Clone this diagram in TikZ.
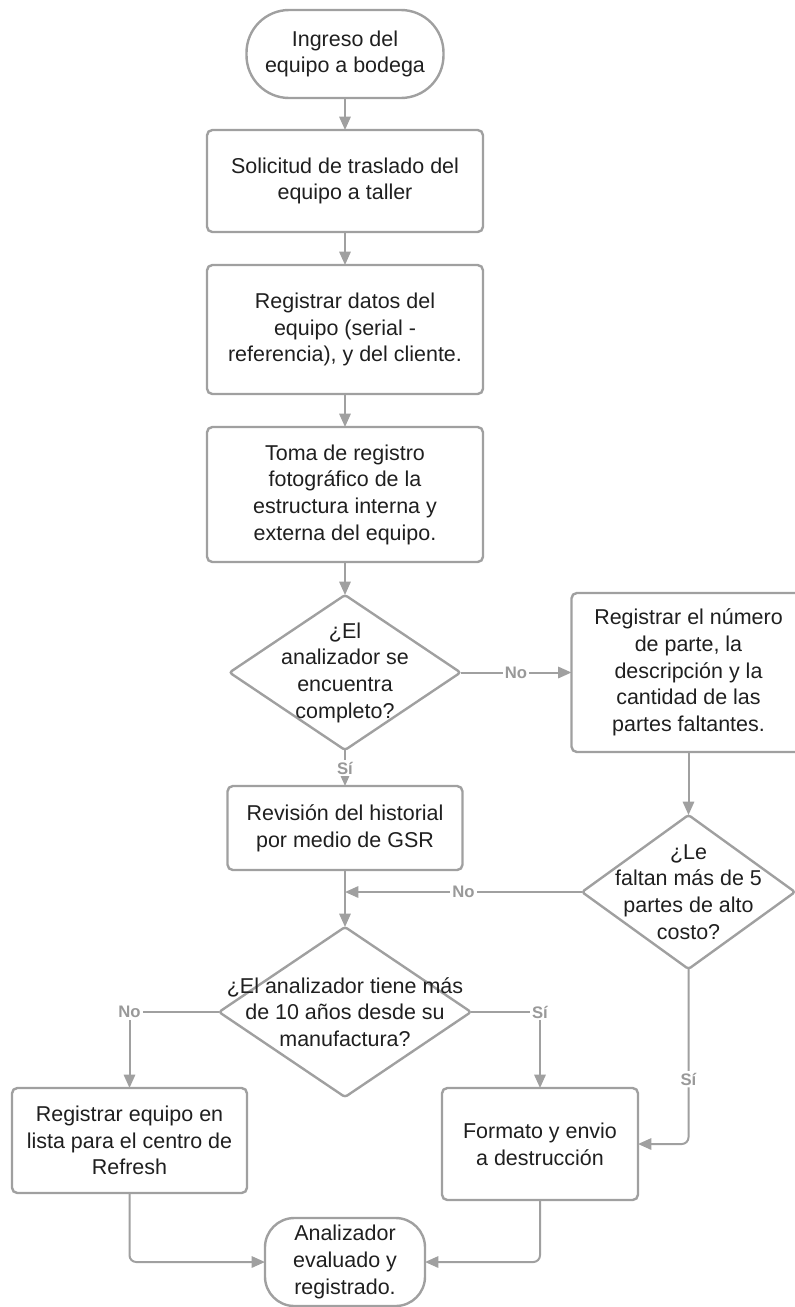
\documentclass[tikz,border=0pt]{standalone}
\usepackage{fontspec}
\setmainfont{Liberation Sans}
\usetikzlibrary{positioning,arrows.meta,shapes.geometric}

\definecolor{flowgray}{HTML}{A0A0A0}
\definecolor{labelgray}{HTML}{999999}

\begin{document}
\begin{tikzpicture}[
x=0.75pt,y=-0.75pt,
node distance=24.75pt,
every node/.style={
font=\fontsize{16.1}{20}\selectfont,
text=black!88,
align=center,
outer sep=0pt
},
process/.style={
draw=flowgray,
line width=1.8pt,
rounded corners=4pt,
minimum width=207pt
},
terminal/.style={
draw=flowgray,
line width=1.8pt,
rounded corners=32pt,
minimum height=66pt
},
decision/.style={
diamond,
draw=flowgray,
line width=1.8pt,
rounded corners=2pt,
inner sep=0pt
},
flow/.style={draw=flowgray,line width=1.5pt,-{Triangle[length=10pt,width=8.5pt]}},
answer/.style={fill=white,text=labelgray,inner sep=1.5pt,font=\fontsize{12.5}{14}\selectfont\bfseries}
]

\useasboundingbox (0,0) rectangle (794,1307);

\node (start) [terminal, minimum width=147.75pt] at (345,54) {Ingreso del\\equipo a bodega};

\node (traslado) [process, minimum height=76.5pt, below=24pt of start]
{Solicitud de traslado del\\equipo a taller};

\node (datos) [process, minimum height=96.75pt, below=of traslado]
{Registrar datos del\\equipo (serial -\\referencia), y del cliente.};

\node (fotos) [process, minimum height=101.25pt, below=of datos]
{Toma de registro\\fotográfico de la\\estructura interna y\\externa del equipo.};

\node (completo) [decision, minimum width=173.25pt, minimum height=116.25pt, below=of fotos,
label={center:{¿El\\analizador se\\encuentra\\completo?}}] {};

\node (faltantes) [process, minimum width=175.5pt, minimum height=119.25pt, right=83.25pt of completo]
{Registrar el número\\de parte, la\\descripción y la\\cantidad de las\\partes faltantes.};

\node (costo) [decision, minimum width=159.75pt, minimum height=115.5pt, below=47.25pt of faltantes,
label={center:{¿Le\\faltan más de 5\\partes de alto\\costo?}}] {};

\node (historial) [process, minimum width=176.25pt, minimum height=63pt, below=27pt of completo]
{Revisión del historial\\por medio de GSR};

\node (antiguedad) [decision, minimum width=189pt, minimum height=127.5pt, below=42.75pt of historial,
label={center:{¿El analizador tiene más\\de 10 años desde su\\manufactura?}}] {};

\node (refresh) [process, minimum width=176.25pt, minimum height=78.75pt] at (129.5,1140.5)
{Registrar equipo en\\lista para el centro de\\Refresh};

\node (destruccion) [process, minimum width=147pt, minimum height=84pt] at (540,1144)
{Formato y envio\\a destrucción};

\node (fin) [terminal, rounded corners=22pt, minimum width=120pt, below=90.75pt of antiguedad]
{Analizador\\evaluado y\\registrado.};

\draw[flow] (start)--(traslado);
\draw[flow] (traslado)--(datos);
\draw[flow] (datos)--(fotos);
\draw[flow] (fotos)--(completo);
\draw[flow] (completo)--node[answer]{No}(faltantes);
\draw[flow] (completo)--node[answer]{Sí}(historial);
\draw[flow] (faltantes)--(costo);
\draw[flow] (costo.west)--node[answer]{No}(costo.west -| historial.south);
\draw[flow] (historial)--(antiguedad);
\draw[flow] (antiguedad.west)--(antiguedad.west -| refresh.north) node[answer]{No}--(refresh.north);
\draw[flow] (antiguedad.east)--(antiguedad.east -| destruccion.north) node[answer]{Sí}--(destruccion.north);
\draw[flow,rounded corners=5pt] (costo.south)--node[answer,pos=0.63]{Sí}(costo.south |- destruccion.east)--(destruccion.east);
\draw[flow,rounded corners=5pt] (refresh.south)|-(fin.west);
\draw[flow,rounded corners=5pt] (destruccion.south)|-(fin.east);

\end{tikzpicture}
\end{document}
